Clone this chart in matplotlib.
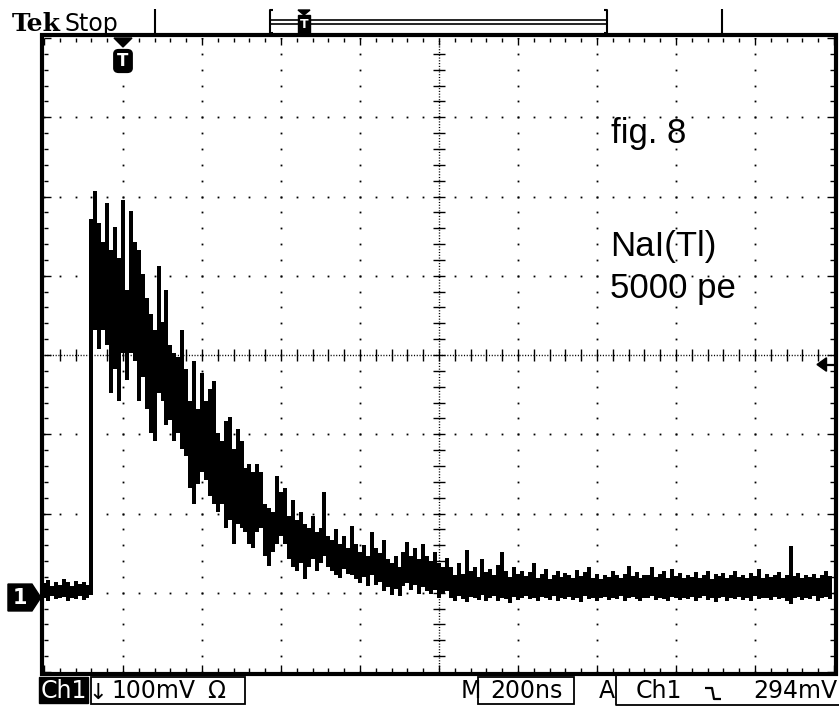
import numpy as np
import matplotlib.pyplot as plt
from matplotlib.patches import Rectangle, Polygon, FancyBboxPatch
from matplotlib.lines import Line2D
from matplotlib.transforms import blended_transform_factory

# Scope settings
mv_per_div = 100
ns_per_div = 200
sample_ns = 10
trigger_level = 294      # mV
screen_bottom = -94      # mV at the lower graticule edge (ground sits just above)
screen_left = -200       # ns before trigger

# Peak-detect trace: per-sample max / min in mV, 10 ns apart starting at -200 ns
trace_hi = [
    18, 22, 15, 20, 16, 23, 19, 15, 21, 17, 20, 16,
    478, 513, 473, 448, 498, 438, 468, 428, 501, 388,
    488, 448, 438, 408, 378, 358, 338, 418, 348, 388,
    318, 308, 303, 338, 288, 248, 298, 238, 283, 248,
    263, 273, 208, 198, 223, 228, 188, 213, 198, 163,
    168, 158, 168, 158, 118, 113, 108, 153, 133, 138,
    103, 123, 98, 108, 93, 88, 103, 83, 88, 133,
    78, 73, 86, 68, 78, 63, 90, 68, 58, 66,
    53, 83, 63, 56, 73, 48, 43, 53, 38, 58,
    70, 53, 63, 48, 68, 53, 46, 58, 43, 38, 50,
    38, 28, 43, 30, 60, 33, 38, 26, 48, 32,
    36, 28, 41, 58, 34, 26, 38, 30, 33, 27,
    32, 43, 25, 30, 36, 23, 28, 34, 26, 31,
    29, 24, 35, 27, 32, 38, 25, 30, 23, 28,
    26, 33, 28, 24, 30, 40, 27, 32, 25, 29,
    28, 38, 26, 30, 34, 25, 36, 27, 31, 24,
    29, 26, 32, 25, 28, 34, 23, 30, 27, 31,
    25, 29, 33, 26, 28, 24, 31, 27, 36, 25,
    30, 26, 28, 32, 25, 29, 65, 27, 31, 24,
    28, 26, 30, 25, 29, 33, 27,
]
trace_lo = [
    0, -4, 2, -2, -1, 1, -5, 0, -2, 2, -3, -1,
    3, 338, 313, 338, 318, 258, 288, 248, 308, 274,
    308, 298, 248, 278, 238, 208, 198, 258, 248, 218,
    224, 198, 208, 188, 178, 138, 118, 143, 158, 148,
    128, 118, 108, 118, 88, 98, 68, 93, 88, 83,
    68, 63, 83, 88, 53, 40, 58, 68, 78, 68,
    48, 38, 33, 43, 23, 38, 48, 33, 43, 53,
    38, 33, 28, 25, 36, 30, 28, 23, 18, 26,
    14, 28, 16, 20, 8, 13, 3, 11, 2, 14,
    18, 10, 16, 5, 13, 8, 4, 10, 0, 6, 8,
    0, -4, 2, -2, -6, 1, -1, -3, 3, -5,
    -1, 2, -4, 0, -2, -7, 1, -3, -1, 2,
    -2, 0, -5, 1, -1, -3, 2, -4, 0, -2,
    1, -3, -1, -6, 2, -2, 0, -4, -1, 1,
    -3, 0, -2, 2, -5, -1, 1, -2, -4, 0,
    -1, 2, -3, 0, -2, -5, 1, -1, -3, 0,
    -2, 1, -4, -1, 2, -3, 0, -6, -1, 1,
    -4, 0, -2, 1, -3, -1, -5, 2, -2, 0,
    -1, -3, 1, -2, 0, -4, -8, -1, 1, -3,
    0, -2, 2, -4, -1, 1, -2,
]
trace_t = screen_left + sample_ns * np.arange(len(trace_hi))

W, H = 839, 707
fig = plt.figure(figsize=(W / 100, H / 100), dpi=100)
ax = fig.add_axes([44 / W, 1 - 672 / H, 790 / W, 634 / H])


def fx(x):
    return x / W


def fy(y):
    return 1 - y / H


def seg(xs, ys, lw=1.5):
    fig.add_artist(Line2D([fx(x) for x in xs], [fy(y) for y in ys],
                          color="black", lw=lw, solid_capstyle="butt"))


x_lo, x_hi = screen_left, screen_left + 10 * ns_per_div
y_lo, y_hi = screen_bottom, screen_bottom + 8 * mv_per_div
ax.set_xlim(x_lo, x_hi)
ax.set_ylim(y_lo, y_hi)

x_major = np.arange(x_lo, x_hi + 1, ns_per_div)
x_minor = np.arange(x_lo, x_hi + 1, ns_per_div / 5)
y_major = np.arange(y_lo, y_hi + 1, mv_per_div)
y_minor = np.arange(y_lo, y_hi + 1, mv_per_div / 5)
x_mid = x_major[5]
y_mid = y_major[4]

ax.set_xticks(x_major)
ax.set_xticks(x_minor, minor=True)
ax.set_yticks(y_major)
ax.set_yticks(y_minor, minor=True)
ax.tick_params(which="both", direction="in", top=True, right=True,
               labelbottom=False, labelleft=False, color="black", width=1)
ax.tick_params(which="major", length=5)
ax.tick_params(which="minor", length=3)
for sp in ax.spines.values():
    sp.set_visible(False)

# Dotted graticule
for xv in x_major[1:-1]:
    if xv == x_mid:
        continue
    ax.plot(np.full(len(y_minor), xv), y_minor, ls="none", marker="s",
            ms=1.3, mew=0, color="black", zorder=1)
for yv in y_major[1:-1]:
    if yv == y_mid:
        continue
    ax.plot(x_minor, np.full(len(x_minor), yv), ls="none", marker="s",
            ms=1.3, mew=0, color="black", zorder=1)

# Centre cross with tick marks
ax.axvline(x_mid, color="black", lw=1, ls=(0, (0.8, 1.2)), zorder=1)
ax.axhline(y_mid, color="black", lw=1, ls=(0, (0.8, 1.2)), zorder=1)
ax.plot(x_minor[1:-1], np.full(len(x_minor) - 2, y_mid), ls="none",
        marker="|", ms=8.5, mew=1.0, color="black", zorder=1)
ax.plot(np.full(len(y_minor) - 2, x_mid), y_minor[1:-1], ls="none",
        marker="_", ms=8.5, mew=1.0, color="black", zorder=1)

# Waveform
ax.vlines(trace_t, trace_lo, trace_hi, colors="black", lw=2.6,
          antialiased=False, zorder=3)

# Screen border
fig.add_artist(Rectangle((fx(42), fy(674)), fx(836) - fx(42), fy(35) - fy(674),
                         transform=fig.transFigure, fill=False,
                         ec="black", lw=3))

# Ground marker for channel 1
gtr = blended_transform_factory(ax.transAxes, ax.transData)
ax.add_patch(Polygon([(-0.0456, 17), (-0.0152, 17), (-0.004, 0),
                      (-0.0152, -17), (-0.0456, -17)], closed=True,
                     fc="black", ec="black", transform=gtr, clip_on=False))
ax.text(-0.031, 0, "1", transform=gtr, color="white", fontsize=15,
        fontweight="bold", ha="center", va="center", clip_on=False)

# Trigger level arrow on the right
ax.add_patch(Polygon([(0.9785, trigger_level), (0.9905, trigger_level + 8.5),
                      (0.9905, trigger_level - 8.5)], closed=True,
                     fc="black", ec="black", transform=gtr, clip_on=False))
ax.plot([0.99, 1.0], [trigger_level, trigger_level], transform=gtr,
        color="black", lw=1.6, clip_on=False)

# Trigger position marker on screen
trig_x = ax.transData.transform((0, 0))[0]
fig.add_artist(Polygon([(fx(trig_x - 9), fy(38)), (fx(trig_x + 9), fy(38)),
                        (fx(trig_x), fy(47))], closed=True,
                       transform=fig.transFigure, fc="black", ec="black"))
fig.add_artist(FancyBboxPatch((fx(trig_x - 7.5), fy(71)), fx(15), fy(0) - fy(20),
                              boxstyle="round,pad=0.002,rounding_size=0.006",
                              transform=fig.transFigure, fc="black", ec="black"))
fig.text(fx(trig_x), fy(61), "T", color="white", fontsize=12,
         fontweight="bold", ha="center", va="center")

# Header
fig.text(fx(12), fy(31), "Tek", fontfamily="DejaVu Serif", fontweight="bold",
         fontsize=18, va="baseline")
fig.text(fx(65), fy(31), "Stop", fontfamily="DejaVu Sans", fontsize=17,
         va="baseline")
seg([155, 155], [9, 35])
seg([722, 722], [9, 35])
seg([273, 270, 270, 273], [10, 10, 33, 33])
seg([604, 607, 607, 604], [10, 10, 33, 33])
seg([271, 606], [20, 20], lw=1.2)
seg([271, 606], [23.5, 23.5], lw=1.2)
fig.add_artist(Polygon([(fx(298), fy(10)), (fx(310), fy(10)), (fx(304), fy(15))],
                       closed=True, transform=fig.transFigure,
                       fc="black", ec="black"))
fig.add_artist(Rectangle((fx(298), fy(33)), fx(12), fy(15) - fy(33),
                         transform=fig.transFigure, fc="black", ec="black"))
fig.text(fx(304), fy(25), "T", color="white", fontsize=9, fontweight="bold",
         ha="center", va="center")

# Status line
status_font = dict(fontfamily="DejaVu Sans", fontsize=17, va="baseline")
fig.add_artist(Rectangle((fx(39), fy(703)), fx(49), fy(677) - fy(703),
                         transform=fig.transFigure, fc="black", ec="black"))
fig.text(fx(63.5), fy(698.5), "Ch1", color="white", ha="center", **status_font)
fig.add_artist(Rectangle((fx(91), fy(704)), fx(154), fy(677) - fy(704),
                         transform=fig.transFigure, fill=False, ec="black", lw=1.3))
fig.text(fx(98), fy(698.5), "\u2193", ha="center", fontfamily="DejaVu Sans",
         fontsize=16, va="baseline")
fig.text(fx(111), fy(698.5), "100mV", **status_font)
fig.text(fx(207), fy(698.5), "\u03a9", **status_font)

fig.text(fx(461), fy(698.5), "M", **status_font)
fig.add_artist(Rectangle((fx(478), fy(704)), fx(96), fy(677) - fy(704),
                         transform=fig.transFigure, fill=False, ec="black", lw=1.3))
fig.text(fx(526), fy(698.5), "200ns", ha="center", **status_font)

fig.text(fx(599), fy(698.5), "A", **status_font)
seg([616, 616, 839], [676, 705, 705], lw=1.3)
fig.text(fx(636), fy(698.5), "Ch1", **status_font)
seg([705, 712, 714, 721], [688, 688, 699, 699], lw=1.6)
fig.text(fx(837), fy(698.5), f"{trigger_level}mV", ha="right", **status_font)

# Annotations
note_font = dict(fontfamily="Liberation Sans", fontsize=25, va="baseline")
fig.text(fx(611), fy(143), "fig. 8", **note_font)
fig.text(fx(610), fy(256), "NaI(Tl)", **note_font)
fig.text(fx(610), fy(298), "5000 pe", **note_font)

fig.savefig("out.png", dpi=100)
